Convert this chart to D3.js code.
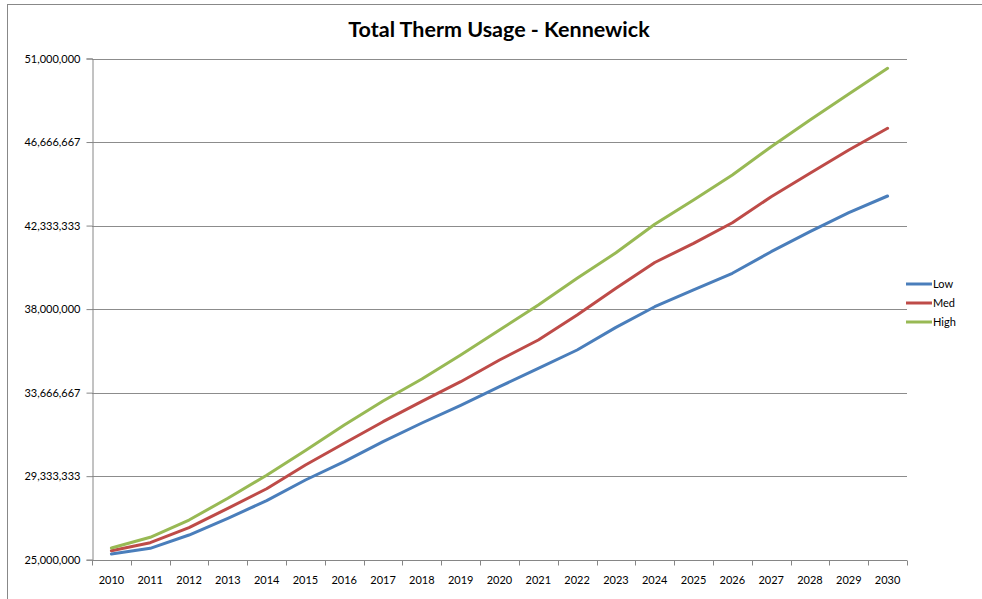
<!DOCTYPE html>
<html>
<head>
<meta charset="utf-8">
<script src="https://cdn.jsdelivr.net/npm/d3@7"></script>
<style>
  html, body { margin: 0; padding: 0; background: #fff; }
  svg { display: block; font-family: Lato, "Open Sans", sans-serif; }
</style>
</head>
<body>
<svg id="chart" width="982" height="599"></svg>
<script>
const title = "Total Therm Usage - Kennewick";
const years = ["2010","2011","2012","2013","2014","2015","2016","2017","2018","2019","2020",
               "2021","2022","2023","2024","2025","2026","2027","2028","2029","2030"];
const seriesNames = ["Low", "Med", "High"];
const lowValues  = [25296000, 25591000, 26281000, 27148000, 28061000, 29134000, 30084000, 31121000, 32091000, 33010000, 33974000,
                    34929000, 35878000, 37050000, 38124000, 38991000, 39857000, 40978000, 42015000, 43001000, 43867000];
const medValues  = [25467000, 25882000, 26660000, 27666000, 28680000, 29913000, 31038000, 32159000, 33217000, 34234000, 35360000,
                    36397000, 37694000, 39079000, 40417000, 41413000, 42482000, 43831000, 45044000, 46253000, 47379000];
const highValues = [25607000, 26162000, 27059000, 28185000, 29380000, 30660000, 31988000, 33230000, 34374000, 35619000, 36916000,
                    38213000, 39598000, 40920000, 42400000, 43659000, 44956000, 46424000, 47809000, 49158000, 50491000];
const yTicks = [25000000, 29333333, 33666667, 38000000, 42333333, 46666667, 51000000];
const colors = ["#4A7EBB", "#BE4B48", "#98B954"];

const svg = d3.select("#chart");
const m = { left: 92, right: 907, top: 58.5, bottom: 559.7 };

// outer chart border
svg.append("rect").attr("x", 7.5).attr("y", 4.5).attr("width", 1000).attr("height", 700)
  .attr("fill", "#fff").attr("stroke", "#888").attr("stroke-width", 1);

svg.append("text").attr("x", 499).attr("y", 37).attr("text-anchor", "middle")
  .attr("font-size", 21.5).attr("font-weight", "bold").attr("fill", "#000").text(title);

const x = d3.scaleBand().domain(years).range([m.left, m.right]).paddingInner(0).paddingOuter(0);
const y = d3.scaleLinear().domain([25000000, 51000000]).range([m.bottom, m.top]);

// gridlines
svg.append("g").selectAll("line").data(yTicks.slice(1)).join("line")
  .attr("x1", m.left).attr("x2", m.right)
  .attr("y1", d => Math.round(y(d)) + 0.5).attr("y2", d => Math.round(y(d)) + 0.5)
  .attr("stroke", "#8c8c8c").attr("stroke-width", 1);

// y axis
const fmt = d3.format(",");
const yAxis = d3.axisLeft(y).tickValues(yTicks).tickSize(6).tickPadding(6).tickFormat(d => fmt(d));
const gy = svg.append("g").attr("transform", `translate(${m.left + 0.5},0)`).call(yAxis);
gy.select(".domain").attr("stroke", "#868686");
gy.selectAll(".tick line").attr("stroke", "#868686");
gy.selectAll(".tick text").attr("font-size", 11).attr("fill", "#000").attr("font-family", "Lato, sans-serif");

// x axis
const gx = svg.append("g").attr("transform", `translate(0,${Math.round(m.bottom) + 0.5})`);
gx.append("line").attr("x1", m.left).attr("x2", m.right).attr("stroke", "#868686");
const bounds = years.map(d => x(d)).concat([x(years[years.length - 1]) + x.bandwidth()]);
gx.selectAll("line.tk").data(bounds).join("line").attr("class", "tk")
  .attr("x1", d => Math.round(d) + 0.5).attr("x2", d => Math.round(d) + 0.5)
  .attr("y1", 0).attr("y2", 5).attr("stroke", "#868686");
gx.selectAll("text").data(years).join("text")
  .attr("x", d => x(d) + x.bandwidth() / 2).attr("y", 23)
  .attr("text-anchor", "middle").attr("font-size", 11).attr("fill", "#000").text(d => d);

// lines
const allSeries = [lowValues, medValues, highValues];
const line = d3.line().x((d, i) => x(years[i]) + x.bandwidth() / 2).y(d => y(d));
svg.append("g").selectAll("path").data(allSeries).join("path")
  .attr("d", d => line(d)).attr("fill", "none")
  .attr("stroke", (d, i) => colors[i]).attr("stroke-width", 3)
  .attr("stroke-linejoin", "round").attr("stroke-linecap", "round");

// legend
const lg = svg.append("g");
seriesNames.forEach((n, i) => {
  const ly = 284 + i * 19;
  lg.append("line").attr("x1", 906).attr("x2", 932).attr("y1", ly).attr("y2", ly)
    .attr("stroke", colors[i]).attr("stroke-width", 3);
  lg.append("text").attr("x", 933).attr("y", ly + 4).attr("font-size", 11).attr("fill", "#000").text(n);
});
</script>
</body>
</html>
